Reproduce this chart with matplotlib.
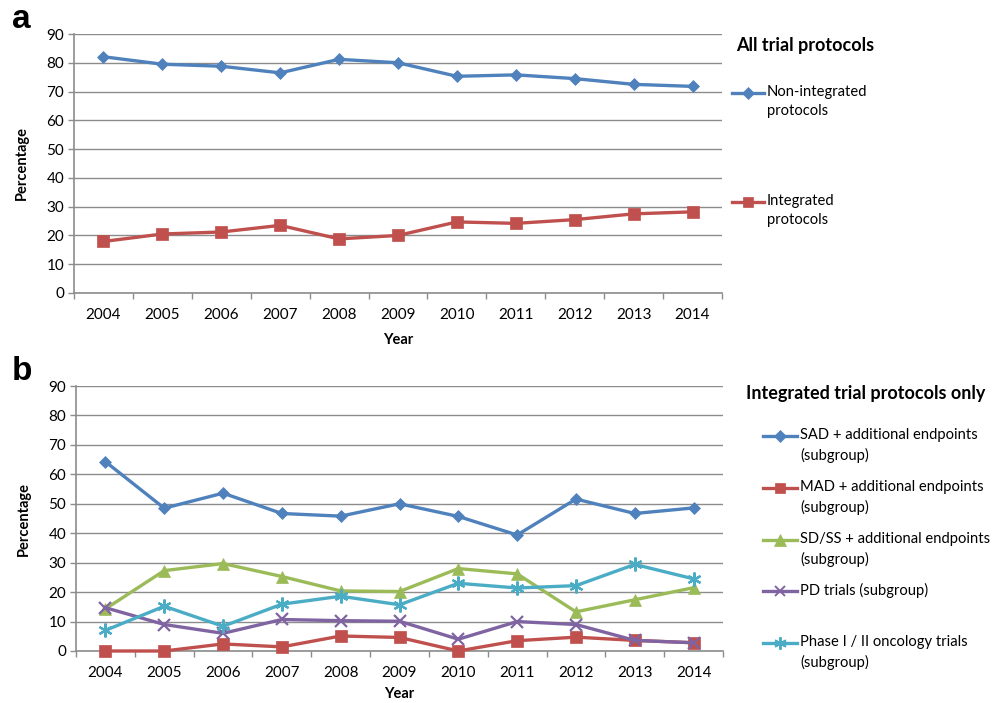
import numpy as np
import matplotlib
matplotlib.use("Agg")
import matplotlib.pyplot as plt
from matplotlib.lines import Line2D

plt.rcParams['font.family'] = ['Lato', 'DejaVu Sans']

years = [2004, 2005, 2006, 2007, 2008, 2009, 2010, 2011, 2012, 2013, 2014]

# panel a: all trial protocols (%)
non_integrated = [82.1, 79.5, 78.8, 76.5, 81.2, 80.0, 75.3, 75.8, 74.5, 72.5, 71.8]
integrated = [17.9, 20.5, 21.2, 23.5, 18.8, 20.0, 24.7, 24.2, 25.5, 27.5, 28.2]

# panel b: integrated protocols only, by subgroup (%)
sad = [64.3, 48.5, 53.6, 46.7, 45.8, 50.0, 45.7, 39.4, 51.6, 46.7, 48.6]
mad = [0.0, 0.0, 2.4, 1.4, 5.1, 4.6, 0.0, 3.5, 4.7, 3.6, 2.8]
sdss = [14.3, 27.3, 29.7, 25.3, 20.4, 20.2, 28.0, 26.2, 13.3, 17.4, 21.5]
pd_trials = [14.7, 9.0, 6.0, 10.7, 10.3, 10.1, 4.0, 10.0, 9.0, 3.6, 2.8]
oncology = [7.0, 15.2, 8.4, 15.9, 18.6, 15.7, 23.0, 21.4, 22.2, 29.4, 24.5]

BLUE = '#4F81BD'
RED = '#C0504D'
GREEN = '#9BBB59'
PURPLE = '#8064A2'
CYAN = '#4BACC6'
GRID = '#8c8c8c'
STAR = (6, 2, 0)

series_a = [
    (non_integrated, BLUE, 'D', 6.5, 'Non-integrated\nprotocols'),
    (integrated, RED, 's', 8.5, 'Integrated\nprotocols'),
]
series_b = [
    (sad, BLUE, 'D', 6.5, 'SAD + additional endpoints\n(subgroup)'),
    (mad, RED, 's', 8.5, 'MAD + additional endpoints\n(subgroup)'),
    (sdss, GREEN, '^', 9, 'SD/SS + additional endpoints\n(subgroup)'),
    (pd_trials, PURPLE, 'x', 8, 'PD trials (subgroup)'),
    (oncology, CYAN, STAR, 10, 'Phase I / II oncology trials\n(subgroup)'),
]

W, H = 1002, 703
fig = plt.figure(figsize=(W / 100, H / 100), dpi=100)


def px_axes(x0, y0, x1, y1):
    return fig.add_axes([x0 / W, 1 - y1 / H, (x1 - x0) / W, (y1 - y0) / H])


def draw_panel(ax, series, xpad):
    x = np.arange(len(years))
    for vals, color, marker, ms, _ in series:
        ax.plot(x, vals, color=color, lw=2.4, marker=marker, ms=ms,
                mew=1.6 if marker in ('x', STAR) else 0.5, mec=color,
                solid_joinstyle='round', zorder=3, clip_on=False)
    ax.set_xlim(-0.5, len(years) - 0.5)
    ax.set_ylim(0, 90)
    ax.set_yticks(range(0, 91, 10))
    ax.set_xticks(x)
    ax.set_xticklabels([str(y) for y in years])
    ax.set_xticks(np.arange(-0.5, len(years)), minor=True)
    ax.tick_params(axis='x', which='major', length=0, pad=11, labelsize=11)
    ax.tick_params(axis='x', which='minor', length=4, width=1, color=GRID,
                   direction='out')
    ax.tick_params(axis='y', length=4, width=1, color=GRID, pad=3, labelsize=11)
    ax.yaxis.grid(True, color=GRID, lw=1)
    ax.set_axisbelow(True)
    for s in ('top', 'right'):
        ax.spines[s].set_visible(False)
    for s in ('left', 'bottom'):
        ax.spines[s].set_color(GRID)
        ax.spines[s].set_linewidth(1.2)
    ax.set_ylabel('Percentage', fontweight='bold', fontsize=10.5, labelpad=13)
    ax.set_xlabel('Year', fontweight='bold', fontsize=10.5, labelpad=xpad)


def draw_key(series, title, tx, ty, lx0, lx1, rows):
    fig.text(tx / W, 1 - ty / H, title, fontweight='bold', fontsize=13,
             ha='left', va='center')
    for (vals, color, marker, ms, label), ry in zip(series, rows):
        yy = 1 - ry / H
        fig.add_artist(Line2D([lx0 / W, lx1 / W], [yy, yy], color=color, lw=2.4,
                              transform=fig.transFigure))
        fig.add_artist(Line2D([(lx0 + lx1) / 2 / W], [yy], color=color,
                              marker=marker, ms=ms * 0.9, mec=color,
                              mew=1.4 if marker in ('x', STAR) else 0.5,
                              transform=fig.transFigure))
        fig.text((lx1 + 3) / W, 1 - (ry - 8) / H, label, fontsize=10.6,
                 ha='left', va='top', linespacing=1.5)


ax_a = px_axes(74, 34, 722, 293)
draw_panel(ax_a, series_a, 8)
ax_b = px_axes(76, 386, 723, 651)
draw_panel(ax_b, series_b, 5)

fig.text(12 / W, 1 - 20 / H, 'a', fontweight='bold', fontsize=24, va='center',
         family='Liberation Sans')
fig.text(12 / W, 1 - 372 / H, 'b', fontweight='bold', fontsize=24, va='center',
         family='Liberation Sans')

draw_key(series_a, 'All trial protocols', 736, 45, 732, 764, [93, 202])
draw_key(series_b, 'Integrated trial protocols only', 746, 393, 763, 797,
         [436, 488, 540, 591, 643])

fig.savefig('out.png', dpi=100)
